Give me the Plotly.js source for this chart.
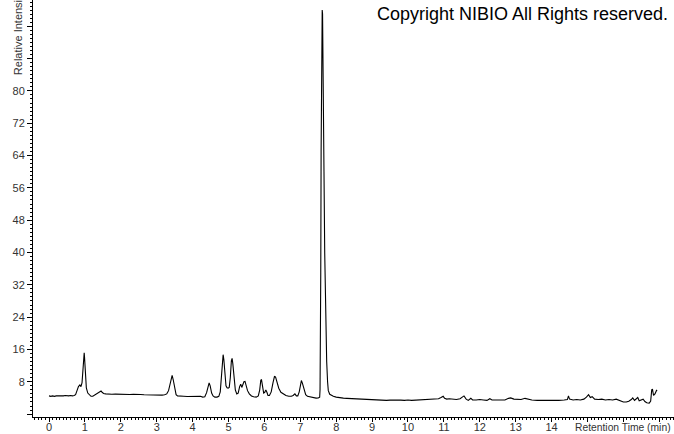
<!DOCTYPE html>
<html>
<head>
<meta charset="utf-8">
<script src="https://cdn.plot.ly/plotly-3.0.1.min.js"></script>
<style>html,body{margin:0;padding:0;background:#fff;}#chart{width:674px;height:434px;}</style>
</head>
<body>
<div id="chart"></div>
<script>
// Retention time (min)
const retentionTime = [
 0.00,0.05,0.10,0.15,0.20,0.25,0.30,0.35,0.40,0.45,0.50,0.55,0.60,0.65,0.70,0.74,0.78,0.82,0.86,0.89,
 0.92,0.95,0.97,0.98,0.99,1.01,1.04,1.08,1.12,1.17,1.22,1.28,1.34,1.38,1.42,1.45,1.48,1.52,1.58,1.65,
 1.75,1.85,1.95,2.05,2.15,2.25,2.35,2.45,2.55,2.65,2.75,2.85,2.95,3.05,3.15,3.22,3.28,3.33,3.37,3.41,
 3.43,3.46,3.50,3.54,3.58,3.65,3.75,3.85,3.95,4.05,4.15,4.22,4.28,4.34,4.39,4.43,4.46,4.49,4.53,4.57,
 4.62,4.68,4.73,4.77,4.80,4.83,4.85,4.87,4.90,4.93,4.96,4.99,5.02,5.05,5.08,5.10,5.12,5.15,5.19,5.23,
 5.27,5.31,5.34,5.37,5.40,5.43,5.46,5.49,5.53,5.58,5.64,5.70,5.77,5.83,5.87,5.90,5.92,5.95,5.98,6.01,
 6.04,6.07,6.10,6.14,6.19,6.24,6.28,6.31,6.35,6.40,6.46,6.53,6.60,6.68,6.75,6.80,6.85,6.89,6.93,6.97,
 7.00,7.03,7.06,7.10,7.15,7.20,7.28,7.36,7.44,7.50,7.54,7.55,7.56,7.57,7.58,7.59,7.60,7.61,7.62,7.63,
 7.64,7.66,7.68,7.70,7.72,7.735,7.76,7.78,7.82,7.87,7.92,8.00,8.10,8.20,8.30,8.40,8.50,8.60,8.70,8.80,
 8.90,9.00,9.10,9.20,9.30,9.40,9.50,9.60,9.70,9.80,9.90,10.00,10.10,10.20,10.30,10.40,10.50,10.60,10.70,10.78,
 10.85,10.92,10.98,11.02,11.08,11.15,11.25,11.35,11.45,11.52,11.56,11.62,11.68,11.75,11.80,11.90,12.00,12.10,12.20,12.28,
 12.34,12.45,12.56,12.70,12.80,12.86,12.95,13.05,13.15,13.26,13.35,13.45,13.60,13.75,13.90,14.05,14.20,14.35,14.44,14.47,
 14.50,14.60,14.70,14.80,14.90,14.97,15.03,15.08,15.13,15.20,15.30,15.40,15.50,15.60,15.70,15.80,15.90,16.00,16.08,16.15,
 16.22,16.26,16.31,16.36,16.40,16.44,16.50,16.55,16.60,16.65,16.72,16.76,16.79,16.81,16.84,16.88,16.92,16.94
];
// Relative intensity (%)
const relativeIntensity = [
 4.5,4.4,4.5,4.4,4.5,4.5,4.4,4.5,4.5,4.6,4.5,4.5,4.6,4.5,4.6,4.8,5.8,6.8,7.2,6.8,
 7.8,11.5,14.8,15.2,14.0,9.5,6.5,5.2,4.7,4.4,4.4,4.7,5.1,5.3,5.4,5.7,5.4,5.1,5.0,4.9,
 4.9,4.95,4.9,4.95,4.9,4.85,4.9,4.8,4.85,4.8,4.75,4.8,4.7,4.75,4.7,4.8,5.0,5.8,7.5,9.4,
 9.6,8.5,6.0,4.8,4.5,4.4,4.4,4.35,4.4,4.45,4.5,4.4,4.2,4.3,5.3,7.0,7.7,7.0,5.2,4.5,
 4.2,4.2,4.4,5.5,9.0,13.0,14.7,13.5,9.0,7.0,6.5,6.4,6.6,9.0,13.2,13.8,12.5,9.0,6.0,5.0,
 5.2,6.8,7.4,6.6,7.2,8.0,8.1,7.0,5.8,5.0,4.5,4.3,4.2,4.5,6.0,8.4,8.5,6.8,5.2,5.4,
 6.0,5.4,4.6,4.6,5.5,7.8,9.3,9.2,7.8,6.4,5.4,4.9,4.6,4.4,4.4,4.6,5.0,4.5,4.5,5.5,
 7.5,8.3,7.6,6.0,4.8,4.4,4.2,4.0,3.95,4.0,4.2,6.0,15,35,65,85,95,100,99,92,
 86,60,40,27,18,13,8,5.8,4.9,4.6,4.4,4.2,4.0,3.95,3.9,3.85,3.8,3.75,3.7,3.6,
 3.55,3.5,3.5,3.45,3.5,3.4,3.45,3.5,3.4,3.45,3.4,3.5,3.4,3.45,3.4,3.5,3.45,3.5,3.55,3.6,
 3.8,4.1,4.4,3.9,3.7,3.8,3.7,3.6,3.8,4.4,4.5,3.7,3.4,3.9,3.5,3.5,3.6,3.5,3.4,3.8,
 3.5,3.5,3.55,3.5,3.9,4.0,3.7,3.6,3.6,3.9,3.7,3.5,3.4,3.4,3.3,3.4,3.4,3.5,3.6,4.5,
 3.7,3.5,3.6,3.5,3.7,4.2,4.8,4.1,4.3,3.7,3.6,3.7,3.5,3.6,3.5,3.7,3.3,3.0,3.0,3.2,
 3.6,4.0,3.4,3.8,4.1,3.3,3.5,3.7,3.1,2.8,2.7,3.2,6.0,6.2,4.6,5.0,5.8,6.0
];
// Tick labels
const xTickVals = [0,1,2,3,4,5,6,7,8,9,10,11,12,13,14,15,16,17];
const xTickText = ['0','1','2','3','4','5','6','7','8','9','10','11','12','13','14','','',''];
const yTickVals = [0,8,16,24,32,40,48,56,64,72,80,88,96];
const yTickText = ['','8','16','24','32','40','48','56','64','72','80','',''];

const font = 'Liberation Sans, Arial, sans-serif';
const trace = {
  x: retentionTime, y: relativeIntensity, type: 'scatter', mode: 'lines',
  line: {color: '#000', width: 1.1}, hoverinfo: 'skip'
};
const layout = {
  width: 674, height: 434,
  margin: {l: 33, r: 0, t: 0, b: 17, pad: 0},
  paper_bgcolor: '#fff', plot_bgcolor: '#fff',
  showlegend: false,
  xaxis: {
    range: [-0.446, 17.41], tickmode: 'array', tickvals: xTickVals, ticktext: xTickText,
    ticks: 'outside', ticklen: 4, tickcolor: '#000', tickwidth: 1, ticklabelstandoff: -4,
    minor: {tickmode: 'linear', tick0: 0, dtick: 0.1, ticks: 'outside', ticklen: 2, tickcolor: '#000', showgrid: false},
    showline: true, linecolor: '#000', linewidth: 1, showgrid: false, zeroline: false,
    tickfont: {family: font, size: 11, color: '#333'}, automargin: false, fixedrange: true
  },
  yaxis: {
    range: [-0.72, 102.5], tickmode: 'array', tickvals: yTickVals, ticktext: yTickText,
    ticks: 'outside', ticklen: 5, tickcolor: '#000', tickwidth: 1,
    minor: {tickmode: 'linear', tick0: 0, dtick: 1, ticks: 'outside', ticklen: 2, tickcolor: '#000', showgrid: false},
    showline: true, linecolor: '#000', linewidth: 1, showgrid: false, zeroline: false,
    tickfont: {family: font, size: 11, color: '#333'}, automargin: false, fixedrange: true
  },
  annotations: [
    {text: 'Copyright NIBIO All Rights reserved.', xref: 'paper', yref: 'paper',
     x: 0.993, y: 0.966, xanchor: 'right', yanchor: 'middle', showarrow: false,
     font: {family: font, size: 18, color: '#000'}},
    {text: 'Retention Time (min)', xref: 'paper', yref: 'paper',
     x: 0.998, y: -0.024, xanchor: 'right', yanchor: 'middle', showarrow: false,
     font: {family: font, size: 10.3, color: '#333'}},
    {text: 'Relative Intensity', xref: 'paper', yref: 'paper', textangle: -90,
     x: -0.0234, y: 0.815, xanchor: 'center', yanchor: 'bottom', showarrow: false,
     font: {family: font, size: 11, color: '#333'}}
  ]
};
Plotly.newPlot('chart', [trace], layout, {staticPlot: true, displayModeBar: false});
</script>
</body>
</html>
